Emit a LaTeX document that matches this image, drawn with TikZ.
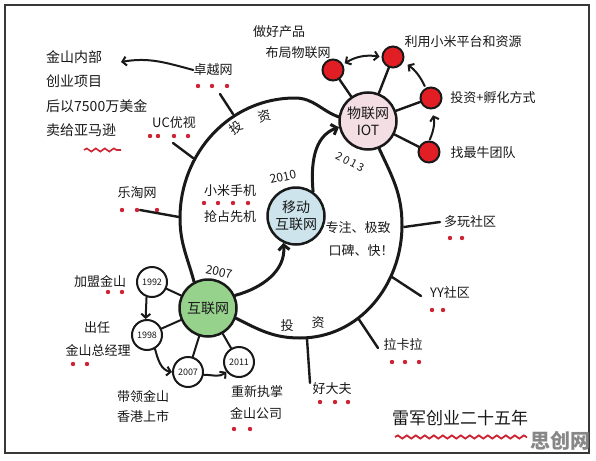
\documentclass[tikz,border=0pt]{standalone}
\usepackage{fontspec}
\setmainfont{Noto Sans CJK SC}
\usetikzlibrary{arrows.meta,decorations.pathmorphing}
\definecolor{ink}{RGB}{25,25,25}
\definecolor{dotred}{RGB}{205,35,50}
\definecolor{ballred}{RGB}{225,30,35}
\definecolor{iotfill}{RGB}{243,222,228}
\definecolor{mobfill}{RGB}{205,228,236}
\definecolor{netfill}{RGB}{150,210,140}
\definecolor{wm}{RGB}{135,135,135}
\definecolor{framec}{RGB}{55,55,55}
\begin{document}
\begin{tikzpicture}[x=1pt,y=1pt,
  ring/.style={draw=ink,line width=3pt,line cap=round},
  branch/.style={draw=ink,line width=2.4pt,line cap=round},
  arr/.style={draw=ink,line width=2pt,line cap=round,-{Straight Barb[length=4pt,width=9pt]}},
  darr/.style={draw=ink,line width=2pt,{Straight Barb[length=4pt,width=9pt]}-{Straight Barb[length=4pt,width=9pt]}},
  hub/.style={circle,draw=ink,line width=2.5pt,minimum size=57pt,inner sep=0pt,align=center,font=\fontsize{14}{17}\selectfont,text=ink},
  yr/.style={circle,draw=ink,line width=2pt,minimum size=30pt,inner sep=0pt,font=\fontsize{9}{10}\selectfont,text=ink},
  ball/.style={circle,draw=ink,fill=ballred,line width=2pt,minimum size=21pt,inner sep=0pt},
  lbl/.style={inner sep=0pt,font=\fontsize{13}{15}\selectfont,text=ink},
  num/.style={inner sep=0pt,font=\fontsize{12}{14}\selectfont,text=ink},
  wave/.style={draw=dotred,line width=1.6pt,decorate,decoration={snake,amplitude=1.6pt,segment length=9pt}},
]
\useasboundingbox (0,0) rectangle (596,-460);
\fill[white] (0,0) rectangle (596,-460);
\draw[framec,line width=2.5pt] (5,-5) rectangle (589,-453);

% hubs
\node[hub,fill=netfill] (g) at (208,-308) {互联网};
\node[hub,fill=mobfill] (b) at (296,-216) {移动\\互联网};
\node[hub,fill=iotfill] (iot) at (368,-121) {物联网\\IOT};

% ring coordinates
\coordinate (rL) at (180,-218);
\coordinate (rT) at (295,-98);
\coordinate (rR) at (402,-225);
\coordinate (rB) at (300,-338);
\draw[ring] (g.118) to[out=105,in=-90] (rL) to[out=90,in=180] (rT) to[out=0,in=160] (iot.172);
\draw[ring] (iot.-68) to[out=-65,in=90] (rR) to[out=-90,in=0] (rB) to[out=180,in=-27] (g.-20);
\draw[ring,-{Straight Barb[length=5pt,width=11pt]}] (g.25) to[out=15,in=-85] (b.-115);
\draw[ring,-{Straight Barb[length=5pt,width=11pt]}] (b.55) to[out=95,in=200] (iot.192);

% years on ring
\node[num,rotate=-12] (y07) at (219,-272) {2007};
\node[num,rotate=12] (y10) at (283,-177) {2010};
\node[num,rotate=-28,font=\fontsize{11}{13}\selectfont] (y13) at (350,-162) {2\hspace{2pt}0\hspace{2pt}1\hspace{2pt}3};

% IOT satellites
\node[ball] (r1) at (333,-70) {};
\node[ball] (r2) at (393,-57) {};
\node[ball] (r3) at (431,-98) {};
\node[ball] (r4) at (429,-152) {};
\draw[branch] (iot) -- (r1);
\draw[branch] (iot) -- (r2);
\draw[branch] (iot) -- (r3);
\draw[branch] (iot) -- (r4);
\draw[darr,shorten <=2pt,shorten >=2pt] (r1.30) to[bend left=20] (r2.180);
\draw[arr,shorten <=2pt,shorten >=5pt] (r3.118) to[bend right=15] (r2.-25);
\draw[arr,shorten <=1pt,shorten >=6pt] (r4.88) to[bend right=20] (r3.-88);
\node[lbl] (p1) at (279,-32) {做好产品};
\node[lbl] (p2) at (298,-53) {布局物联网};
\node[lbl] (p3) at (463,-42) {利用小米平台和资源};
\node[lbl] (p4) at (493,-98) {投资+孵化方式};
\node[lbl] (p5) at (483,-153) {找最牛团队};

% top-left branches
\node[lbl] (zy) at (213,-70) {卓越网};
\foreach \x in {198,212,227} \fill[dotred] (\x,-86) circle (2.2);
\coordinate (zyA) at (220,-94);
\coordinate (zyB) at (233,-114);
\draw[branch] (zyA) -- (zyB);
\node[lbl,font=\fontsize{14}{16}\selectfont,anchor=west] (k1) at (46,-57) {金山内部};
\node[lbl,font=\fontsize{14}{16}\selectfont,anchor=west] (k2) at (46,-81) {创业项目};
\node[lbl,font=\fontsize{14}{16}\selectfont,anchor=west] (k3) at (46,-106) {后以7500万美金};
\node[lbl,font=\fontsize{14}{16}\selectfont,anchor=west] (k4) at (46,-130) {卖给亚马逊};
\draw[wave] (84,-150) -- (121,-150);
\coordinate (kA) at (121,-62);
\draw[arr] (zy.west) to[out=165,in=10] (kA);

\node[lbl] (uc) at (174,-123) {UC优视};
\foreach \x in {150,158,174,188} \fill[dotred] (\x,-136) circle (2.2);
\coordinate (ucA) at (173,-143);
\coordinate (ucB) at (193,-158);
\draw[branch] (ucA) -- (ucB);
\node[lbl,rotate=35] (t1) at (236,-128) {投};
\node[lbl,rotate=15] (t2) at (265,-116) {资};

\node[lbl] (lt) at (137,-193) {乐淘网};
\foreach \x in {122,137,157} \fill[dotred] (\x,-210) circle (2.2);
\coordinate (ltA) at (140,-210);
\coordinate (ltB) at (179,-217);
\draw[branch] (ltA) -- (ltB);

% inside
\node[lbl] (xm1) at (230,-191) {小米手机};
\foreach \x in {204,218,233,248} \fill[dotred] (\x,-203) circle (2.2);
\node[lbl] (xm2) at (230,-217) {抢占先机};
\node[lbl] (zz1) at (358,-228) {专注、极致};
\node[lbl] (zz2) at (361,-251) {口碑、快！};

% right branches
\node[lbl] (dw) at (470,-222) {多玩社区};
\foreach \x in {450,462} \fill[dotred] (\x,-238) circle (2.2);
\coordinate (dwA) at (404,-227);
\coordinate (dwB) at (440,-222);
\draw[branch] (dwA) -- (dwB);
\node[lbl] (yy) at (450,-293) {YY社区};
\foreach \x in {432,443} \fill[dotred] (\x,-310) circle (2.2);
\coordinate (yyA) at (392,-277);
\coordinate (yyB) at (421,-296);
\draw[branch] (yyA) -- (yyB);
\node[lbl] (lk) at (403,-345) {拉卡拉};
\foreach \x in {392,405,419} \fill[dotred] (\x,-362) circle (2.2);
\coordinate (lkA) at (358,-318);
\coordinate (lkB) at (378,-348);
\draw[branch] (lkA) -- (lkB);
\node[lbl] (hd) at (332,-389) {好大夫};
\foreach \x in {320,335,348} \fill[dotred] (\x,-402) circle (2.2);
\coordinate (hdA) at (307,-339);
\coordinate (hdB) at (310,-383);
\draw[branch] (hdA) -- (hdB);
\node[lbl] (t3) at (287,-326) {投};
\node[lbl] (t4) at (318,-323) {资};

% year circles
\node[yr] (c92) at (152,-282) {1992};
\node[yr] (c98) at (147,-335) {1998};
\node[yr] (c07) at (188,-372) {2007};
\node[yr] (c11) at (239,-362) {2011};
\draw[branch,line width=2pt] (g) -- (c92);
\draw[branch,line width=2pt] (g) -- (c98);
\draw[branch,line width=2pt] (g) -- (c07);
\draw[branch,line width=2pt] (g) -- (c11);
\draw[arr] (c92.250) -- (c98.95);
\draw[arr] (c98.-60) to[out=-75,in=170] (c07.west);
\draw[arr] (c07.-10) to[out=0,in=-140] (c11.218);
\node[lbl] (e1) at (100,-282) {加盟金山};
\foreach \x in {108,122} \fill[dotred] (\x,-292) circle (2.2);
\node[lbl] (e2) at (97,-328) {出任};
\node[lbl] (e3) at (98,-350) {金山总经理};
\foreach \x in {73,87} \fill[dotred] (\x,-364) circle (2.2);
\node[lbl] (e4) at (143,-397) {带领金山};
\node[lbl] (e5) at (143,-417) {香港上市};
\node[lbl] (e6) at (257,-392) {重新执掌};
\node[lbl] (e7) at (256,-413) {金山公司};
\foreach \x in {234,250} \fill[dotred] (\x,-429) circle (2.2);

% title
\node[lbl,font=\fontsize{17}{20}\selectfont] (title) at (460,-418) {雷军创业二十五年};
\draw[wave,line width=1.8pt] (395,-437) -- (527,-437);
\node[inner sep=0pt,text=wm,font=\bfseries\fontsize{20}{22}\selectfont] (wmk) at (560,-441) {思创网};
\end{tikzpicture}
\end{document}
